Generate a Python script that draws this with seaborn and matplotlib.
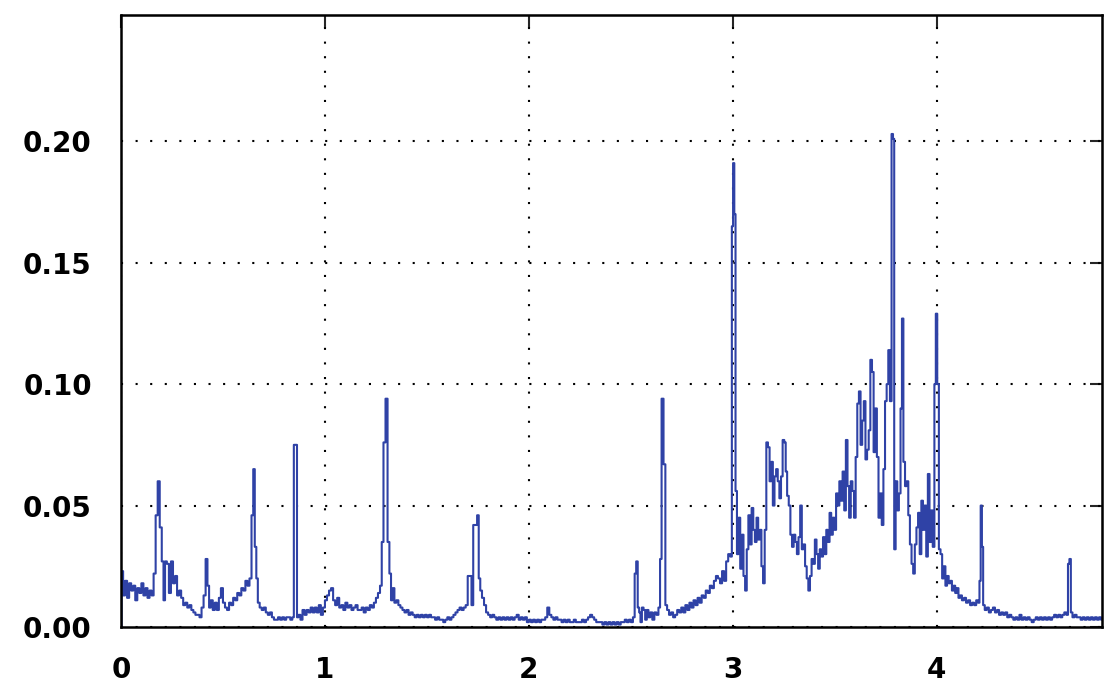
import numpy as np
import pandas as pd
import matplotlib
matplotlib.use("Agg")
import matplotlib.pyplot as plt
import seaborn as sns
from matplotlib.ticker import FormatStrFormatter

# Valores (eje x y amplitud)
x_vals = [
    0.000, 0.006, 0.015, 0.025, 0.035, 0.045, 0.055, 0.065, 0.075, 0.085, 0.095, 0.105, 0.115, 0.125, 0.135,
    0.145, 0.155, 0.165, 0.175, 0.185, 0.195, 0.205, 0.212, 0.220, 0.230, 0.240, 0.250, 0.260, 0.270, 0.280,
    0.290, 0.300, 0.310, 0.320, 0.330, 0.340, 0.350, 0.360, 0.370, 0.380, 0.390, 0.400, 0.410, 0.420, 0.428,
    0.436, 0.445, 0.455, 0.465, 0.475, 0.485, 0.495, 0.505, 0.515, 0.525, 0.535, 0.545, 0.555, 0.565, 0.575,
    0.585, 0.595, 0.605, 0.615, 0.625, 0.635, 0.645, 0.652, 0.660, 0.667, 0.675, 0.685, 0.695, 0.705, 0.715,
    0.725, 0.735, 0.745, 0.755, 0.765, 0.775, 0.785, 0.795, 0.805, 0.815, 0.825, 0.835, 0.845, 0.850, 0.860,
    0.866, 0.875, 0.885, 0.895, 0.905, 0.915, 0.925, 0.935, 0.945, 0.955, 0.965, 0.975, 0.985, 0.995, 1.005,
    1.015, 1.025, 1.035, 1.045, 1.055, 1.065, 1.075, 1.085, 1.095, 1.105, 1.115, 1.125, 1.135, 1.145, 1.155,
    1.165, 1.175, 1.185, 1.195, 1.205, 1.215, 1.225, 1.235, 1.245, 1.255, 1.265, 1.275, 1.282, 1.292, 1.302,
    1.312, 1.320, 1.328, 1.336, 1.345, 1.355, 1.365, 1.375, 1.385, 1.395, 1.405, 1.415, 1.425, 1.435, 1.445,
    1.455, 1.465, 1.475, 1.485, 1.495, 1.505, 1.515, 1.525, 1.535, 1.545, 1.555, 1.565, 1.575, 1.585, 1.595,
    1.605, 1.615, 1.625, 1.635, 1.645, 1.655, 1.665, 1.675, 1.685, 1.695, 1.705, 1.715, 1.722, 1.732, 1.742,
    1.750, 1.758, 1.765, 1.775, 1.785, 1.795, 1.805, 1.815, 1.825, 1.835, 1.845, 1.855, 1.865, 1.875, 1.885,
    1.895, 1.905, 1.915, 1.925, 1.935, 1.945, 1.955, 1.965, 1.975, 1.985, 1.995, 2.005, 2.015, 2.025, 2.035,
    2.045, 2.055, 2.065, 2.075, 2.085, 2.095, 2.105, 2.115, 2.125, 2.135, 2.145, 2.155, 2.165, 2.175, 2.185,
    2.195, 2.205, 2.215, 2.225, 2.235, 2.245, 2.255, 2.265, 2.275, 2.285, 2.295, 2.305, 2.315, 2.325, 2.335,
    2.345, 2.355, 2.365, 2.375, 2.385, 2.395, 2.405, 2.415, 2.425, 2.435, 2.445, 2.455, 2.465, 2.475, 2.485,
    2.495, 2.505, 2.515, 2.522, 2.530, 2.537, 2.544, 2.550, 2.558, 2.566, 2.574, 2.582, 2.590, 2.600, 2.610,
    2.620, 2.630, 2.640, 2.646, 2.655, 2.665, 2.673, 2.682, 2.692, 2.702, 2.712, 2.722, 2.732, 2.742, 2.752,
    2.762, 2.772, 2.782, 2.792, 2.802, 2.812, 2.822, 2.832, 2.842, 2.852, 2.862, 2.872, 2.882, 2.892, 2.902,
    2.912, 2.922, 2.932, 2.942, 2.952, 2.962, 2.972, 2.982, 2.992, 2.998, 3.004, 3.010, 3.016, 3.024, 3.032,
    3.040, 3.048, 3.056, 3.064, 3.072, 3.080, 3.088, 3.096, 3.104, 3.112, 3.120, 3.128, 3.136, 3.144, 3.152,
    3.160, 3.168, 3.176, 3.184, 3.192, 3.200, 3.208, 3.216, 3.224, 3.232, 3.240, 3.248, 3.256, 3.262, 3.270,
    3.278, 3.286, 3.294, 3.302, 3.310, 3.318, 3.326, 3.334, 3.342, 3.350, 3.358, 3.366, 3.374, 3.382, 3.390,
    3.398, 3.406, 3.414, 3.422, 3.430, 3.438, 3.446, 3.454, 3.462, 3.470, 3.478, 3.486, 3.494, 3.502, 3.510,
    3.518, 3.526, 3.534, 3.542, 3.550, 3.558, 3.566, 3.574, 3.582, 3.590, 3.598, 3.606, 3.614, 3.622, 3.630,
    3.638, 3.646, 3.654, 3.662, 3.670, 3.678, 3.686, 3.694, 3.702, 3.710, 3.718, 3.726, 3.734, 3.742, 3.750,
    3.758, 3.766, 3.774, 3.782, 3.788, 3.794, 3.802, 3.810, 3.818, 3.826, 3.832, 3.840, 3.848, 3.856, 3.864,
    3.872, 3.880, 3.888, 3.896, 3.904, 3.912, 3.920, 3.928, 3.936, 3.944, 3.952, 3.960, 3.968, 3.976, 3.984,
    3.992, 3.998, 4.006, 4.014, 4.022, 4.030, 4.038, 4.046, 4.054, 4.062, 4.070, 4.078, 4.086, 4.094, 4.102,
    4.110, 4.118, 4.128, 4.138, 4.148, 4.158, 4.168, 4.178, 4.188, 4.198, 4.206, 4.212, 4.218, 4.224, 4.230,
    4.240, 4.250, 4.260, 4.270, 4.280, 4.290, 4.300, 4.310, 4.320, 4.330, 4.340, 4.350, 4.360, 4.370, 4.380,
    4.390, 4.400, 4.410, 4.420, 4.430, 4.440, 4.450, 4.460, 4.470, 4.480, 4.490, 4.500, 4.510, 4.520, 4.530,
    4.540, 4.550, 4.560, 4.570, 4.580, 4.590, 4.600, 4.610, 4.620, 4.630, 4.640, 4.646, 4.654, 4.660, 4.670,
    4.680, 4.690, 4.700, 4.710, 4.720, 4.730, 4.740, 4.750, 4.760, 4.770, 4.780, 4.790, 4.800, 4.810,
]
y_vals = [
    0.000, 0.023, 0.013, 0.019, 0.012, 0.018, 0.015, 0.017, 0.011, 0.016, 0.014, 0.018, 0.013, 0.016, 0.012,
    0.015, 0.013, 0.022, 0.046, 0.060, 0.041, 0.027, 0.011, 0.027, 0.026, 0.014, 0.027, 0.018, 0.021, 0.013,
    0.015, 0.012, 0.009, 0.010, 0.008, 0.009, 0.007, 0.006, 0.005, 0.005, 0.004, 0.008, 0.013, 0.028, 0.017,
    0.008, 0.011, 0.007, 0.010, 0.007, 0.012, 0.016, 0.010, 0.008, 0.007, 0.010, 0.009, 0.012, 0.011, 0.014,
    0.013, 0.016, 0.015, 0.019, 0.017, 0.020, 0.046, 0.065, 0.033, 0.020, 0.010, 0.008, 0.007, 0.008, 0.006,
    0.005, 0.006, 0.004, 0.003, 0.003, 0.004, 0.003, 0.004, 0.003, 0.004, 0.004, 0.003, 0.004, 0.075, 0.075,
    0.004, 0.005, 0.003, 0.007, 0.005, 0.007, 0.006, 0.008, 0.006, 0.008, 0.006, 0.009, 0.005, 0.008, 0.011,
    0.013, 0.015, 0.016, 0.011, 0.009, 0.012, 0.008, 0.009, 0.007, 0.010, 0.008, 0.009, 0.007, 0.008, 0.009,
    0.007, 0.007, 0.008, 0.006, 0.008, 0.007, 0.009, 0.008, 0.010, 0.012, 0.014, 0.017, 0.035, 0.076, 0.094,
    0.035, 0.022, 0.011, 0.016, 0.010, 0.011, 0.009, 0.008, 0.007, 0.006, 0.007, 0.005, 0.006, 0.005, 0.004,
    0.005, 0.004, 0.005, 0.004, 0.005, 0.004, 0.005, 0.004, 0.004, 0.003, 0.004, 0.003, 0.003, 0.002, 0.003,
    0.004, 0.003, 0.004, 0.005, 0.006, 0.007, 0.008, 0.007, 0.008, 0.009, 0.021, 0.021, 0.009, 0.042, 0.042,
    0.046, 0.020, 0.015, 0.012, 0.009, 0.006, 0.005, 0.004, 0.005, 0.004, 0.003, 0.004, 0.003, 0.004, 0.003,
    0.004, 0.003, 0.004, 0.003, 0.004, 0.005, 0.003, 0.004, 0.003, 0.004, 0.002, 0.003, 0.002, 0.003, 0.002,
    0.003, 0.002, 0.003, 0.003, 0.004, 0.008, 0.005, 0.004, 0.003, 0.004, 0.003, 0.003, 0.002, 0.003, 0.002,
    0.003, 0.002, 0.002, 0.003, 0.002, 0.002, 0.002, 0.003, 0.002, 0.003, 0.004, 0.005, 0.004, 0.003, 0.002,
    0.002, 0.002, 0.001, 0.002, 0.001, 0.002, 0.001, 0.002, 0.001, 0.002, 0.001, 0.002, 0.002, 0.003, 0.002,
    0.003, 0.002, 0.004, 0.022, 0.027, 0.008, 0.006, 0.002, 0.008, 0.007, 0.003, 0.007, 0.004, 0.006, 0.003,
    0.006, 0.005, 0.008, 0.028, 0.094, 0.067, 0.009, 0.007, 0.005, 0.006, 0.004, 0.005, 0.007, 0.006, 0.008,
    0.006, 0.009, 0.007, 0.010, 0.008, 0.011, 0.009, 0.012, 0.010, 0.013, 0.012, 0.015, 0.014, 0.017, 0.016,
    0.019, 0.021, 0.020, 0.018, 0.023, 0.019, 0.027, 0.030, 0.029, 0.165, 0.191, 0.170, 0.056, 0.030, 0.045,
    0.024, 0.038, 0.021, 0.015, 0.032, 0.046, 0.034, 0.049, 0.040, 0.035, 0.045, 0.036, 0.040, 0.025, 0.018,
    0.040, 0.076, 0.074, 0.060, 0.068, 0.050, 0.062, 0.065, 0.060, 0.053, 0.062, 0.077, 0.076, 0.064, 0.054,
    0.050, 0.038, 0.033, 0.038, 0.035, 0.030, 0.037, 0.050, 0.032, 0.034, 0.025, 0.020, 0.015, 0.021, 0.028,
    0.026, 0.036, 0.030, 0.024, 0.032, 0.029, 0.037, 0.030, 0.040, 0.035, 0.047, 0.038, 0.045, 0.040, 0.055,
    0.050, 0.060, 0.052, 0.064, 0.048, 0.077, 0.058, 0.045, 0.060, 0.056, 0.045, 0.070, 0.092, 0.097, 0.075,
    0.085, 0.093, 0.069, 0.073, 0.081, 0.110, 0.105, 0.072, 0.090, 0.070, 0.045, 0.055, 0.042, 0.065, 0.093,
    0.100, 0.114, 0.093, 0.203, 0.201, 0.032, 0.060, 0.048, 0.055, 0.090, 0.127, 0.068, 0.058, 0.060, 0.046,
    0.034, 0.026, 0.022, 0.034, 0.041, 0.047, 0.030, 0.052, 0.040, 0.050, 0.029, 0.063, 0.035, 0.048, 0.033,
    0.100, 0.129, 0.100, 0.032, 0.030, 0.020, 0.025, 0.017, 0.021, 0.018, 0.019, 0.015, 0.017, 0.014, 0.016,
    0.012, 0.013, 0.011, 0.012, 0.010, 0.011, 0.009, 0.010, 0.009, 0.011, 0.010, 0.019, 0.050, 0.033, 0.009,
    0.007, 0.008, 0.006, 0.007, 0.008, 0.006, 0.007, 0.005, 0.006, 0.005, 0.006, 0.004, 0.005, 0.004, 0.003,
    0.004, 0.003, 0.005, 0.003, 0.004, 0.003, 0.004, 0.003, 0.002, 0.003, 0.004, 0.003, 0.004, 0.003, 0.004,
    0.003, 0.004, 0.003, 0.004, 0.005, 0.004, 0.005, 0.004, 0.005, 0.006, 0.005, 0.026, 0.028, 0.006, 0.004,
    0.005, 0.004, 0.004, 0.003, 0.004, 0.003, 0.004, 0.003, 0.004, 0.003, 0.004, 0.003, 0.004, 0.003,
]

x_ticks = [0, 1, 2, 3, 4]
y_ticks = [0.00, 0.05, 0.10, 0.15, 0.20]

df = pd.DataFrame({'x': x_vals, 'y': y_vals})

sns.set_style("white")
plt.rcParams['font.family'] = ['DejaVu Sans']

fig = plt.figure(figsize=(11.16, 7), dpi=100)
ax = fig.add_axes([0.1084, 0.1043, 0.8791, 0.8743])

# Línea del espectro
sns.lineplot(data=df, x='x', y='y', ax=ax, estimator=None, sort=False, color='#2f42a6',
             linewidth=1.5, drawstyle='steps-mid')

ax.set_xlim(0, 4.81)
ax.set_ylim(0, 0.252)
ax.set_xlabel('')
ax.set_ylabel('')

ax.set_xticks(x_ticks)
ax.set_yticks(y_ticks)
ax.yaxis.set_major_formatter(FormatStrFormatter('%.2f'))

# Rejilla punteada
ax.grid(True, color='black', linestyle=(0, (1, 6)), linewidth=1.5)
ax.set_axisbelow(True)

for s in ax.spines.values():
    s.set_color('black')
    s.set_linewidth(1.8)

ax.tick_params(direction='inout', length=14, width=1.5, colors='black', pad=14, labelsize=20)
for lab in ax.get_xticklabels() + ax.get_yticklabels():
    lab.set_fontweight('bold')

# Marcas interiores arriba y a la derecha
top = ax.secondary_xaxis('top')
top.set_xticks(x_ticks)
top.tick_params(direction='in', length=9, width=1.5, labeltop=False)
right = ax.secondary_yaxis('right')
right.set_yticks(y_ticks)
right.tick_params(direction='in', length=9, width=1.5, labelright=False)

fig.savefig('out.png', dpi=100, facecolor='white')
